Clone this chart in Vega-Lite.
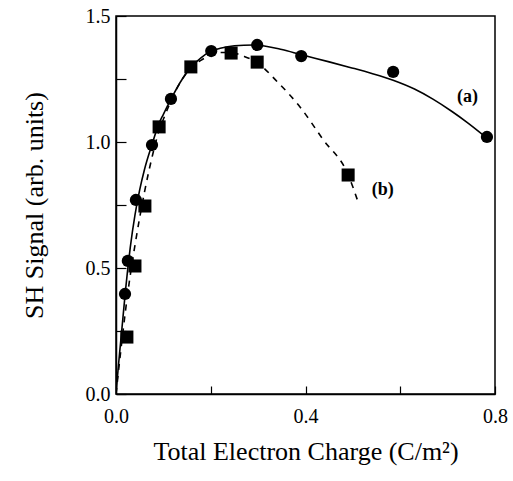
{
  "$schema": "https://vega.github.io/schema/vega-lite/v6.json",
  "autosize": "none",
  "width": 379,
  "height": 378,
  "padding": {"left": 116, "top": 16, "right": 18, "bottom": 87},
  "background": "white",
  "config": {
    "font": "Liberation Serif",
    "view": {"stroke": "black", "strokeWidth": 1.5},
    "axis": {"grid": false, "domainColor": "black", "tickColor": "black", "labelColor": "black", "titleColor": "black", "labelFont": "Liberation Serif", "titleFont": "Liberation Serif", "labelFontSize": 20, "titleFontSize": 26, "titleFontWeight": "normal", "domainWidth": 1.5, "tickWidth": 1.2, "labelFlush": false}
  },
  "datasets": {
    "pts": [
      {"s": "a", "x": 0.019, "y": 0.397},
      {"s": "a", "x": 0.025, "y": 0.528},
      {"s": "a", "x": 0.042, "y": 0.770},
      {"s": "a", "x": 0.076, "y": 0.988},
      {"s": "a", "x": 0.116, "y": 1.171},
      {"s": "a", "x": 0.201, "y": 1.361},
      {"s": "a", "x": 0.298, "y": 1.385},
      {"s": "a", "x": 0.391, "y": 1.341},
      {"s": "a", "x": 0.585, "y": 1.278},
      {"s": "a", "x": 0.783, "y": 1.020},
      {"s": "b", "x": 0.023, "y": 0.226},
      {"s": "b", "x": 0.040, "y": 0.508},
      {"s": "b", "x": 0.061, "y": 0.746},
      {"s": "b", "x": 0.091, "y": 1.060},
      {"s": "b", "x": 0.158, "y": 1.298},
      {"s": "b", "x": 0.243, "y": 1.353},
      {"s": "b", "x": 0.298, "y": 1.317},
      {"s": "b", "x": 0.490, "y": 0.869}
    ],
    "fitA": [
      {"x": 0, "y": 0}, {"x": 0.005, "y": 0.11}, {"x": 0.01, "y": 0.21}, {"x": 0.015, "y": 0.31},
      {"x": 0.02, "y": 0.41}, {"x": 0.025, "y": 0.50}, {"x": 0.03, "y": 0.58}, {"x": 0.04, "y": 0.71},
      {"x": 0.05, "y": 0.81}, {"x": 0.06, "y": 0.89}, {"x": 0.076, "y": 0.99}, {"x": 0.09, "y": 1.07},
      {"x": 0.1, "y": 1.11}, {"x": 0.116, "y": 1.17}, {"x": 0.14, "y": 1.25}, {"x": 0.16, "y": 1.30},
      {"x": 0.18, "y": 1.335}, {"x": 0.2, "y": 1.36}, {"x": 0.22, "y": 1.372}, {"x": 0.25, "y": 1.382},
      {"x": 0.29, "y": 1.385}, {"x": 0.35, "y": 1.367}, {"x": 0.39, "y": 1.347}, {"x": 0.45, "y": 1.318},
      {"x": 0.494, "y": 1.296}, {"x": 0.54, "y": 1.272}, {"x": 0.585, "y": 1.245}, {"x": 0.63, "y": 1.21},
      {"x": 0.669, "y": 1.17}, {"x": 0.71, "y": 1.12}, {"x": 0.741, "y": 1.078}, {"x": 0.78, "y": 1.02}
    ],
    "fitB": [
      {"x": 0, "y": 0}, {"x": 0.01, "y": 0.17}, {"x": 0.02, "y": 0.33}, {"x": 0.03, "y": 0.47},
      {"x": 0.04, "y": 0.59}, {"x": 0.05, "y": 0.70}, {"x": 0.06, "y": 0.80}, {"x": 0.07, "y": 0.89},
      {"x": 0.08, "y": 0.97}, {"x": 0.09, "y": 1.04}, {"x": 0.1, "y": 1.09}, {"x": 0.12, "y": 1.18},
      {"x": 0.14, "y": 1.25}, {"x": 0.158, "y": 1.295}, {"x": 0.18, "y": 1.325}, {"x": 0.2, "y": 1.345},
      {"x": 0.22, "y": 1.355}, {"x": 0.243, "y": 1.355}, {"x": 0.27, "y": 1.34}, {"x": 0.298, "y": 1.315},
      {"x": 0.34, "y": 1.24}, {"x": 0.388, "y": 1.14}, {"x": 0.437, "y": 1.01}, {"x": 0.49, "y": 0.87},
      {"x": 0.511, "y": 0.762}
    ],
    "labels": [
      {"x": 0.742, "y": 1.18, "t": "(a)"},
      {"x": 0.563, "y": 0.81, "t": "(b)"}
    ]
  },
  "layer": [
    {
      "data": {"name": "fitA"},
      "mark": {"type": "line", "color": "black", "strokeWidth": 1.6, "interpolate": "monotone", "clip": true},
      "encoding": {
        "x": {"field": "x", "type": "quantitative", "scale": {"domain": [0, 0.8], "nice": false},
          "axis": {"values": [0, 0.2, 0.4, 0.6, 0.8], "tickSize": -8, "labelPadding": 20, "labelExpr": "(round(datum.value*10) % 4 == 0) ? format(datum.value, '.1f') : ''", "title": "Total Electron Charge (C/m²)", "titlePadding": 12}},
        "y": {"field": "y", "type": "quantitative", "scale": {"domain": [0, 1.5], "nice": false},
          "axis": {"values": [0, 0.25, 0.5, 0.75, 1.0, 1.25, 1.5], "tickSize": -10, "labelPadding": 16, "labelExpr": "(round(datum.value*100) % 50 == 0) ? format(datum.value, '.1f') : ''", "title": "SH Signal (arb. units)", "titlePadding": 38}}
      }
    },
    {
      "data": {"name": "fitB"},
      "mark": {"type": "line", "color": "black", "strokeWidth": 1.6, "strokeDash": [6, 6], "interpolate": "monotone", "clip": true},
      "encoding": {
        "x": {"field": "x", "type": "quantitative"},
        "y": {"field": "y", "type": "quantitative"}
      }
    },
    {
      "data": {"name": "pts"},
      "mark": {"type": "point", "filled": true, "opacity": 1, "color": "black"},
      "encoding": {
        "x": {"field": "x", "type": "quantitative"},
        "y": {"field": "y", "type": "quantitative"},
        "shape": {"field": "s", "type": "nominal", "scale": {"domain": ["a", "b"], "range": ["circle", "square"]}, "legend": null},
        "size": {"field": "s", "type": "nominal", "scale": {"domain": ["a", "b"], "range": [150, 170]}, "legend": null}
      }
    },
    {
      "data": {"name": "labels"},
      "mark": {"type": "text", "font": "Liberation Serif", "fontSize": 18, "color": "black", "fontWeight": "bold", "align": "center", "baseline": "middle"},
      "encoding": {
        "x": {"field": "x", "type": "quantitative"},
        "y": {"field": "y", "type": "quantitative"},
        "text": {"field": "t"}
      }
    }
  ]
}
